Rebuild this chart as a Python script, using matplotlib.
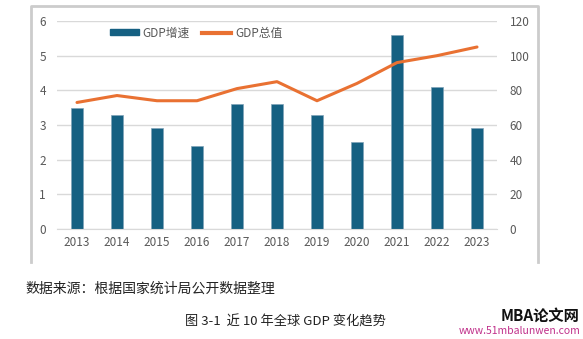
import numpy as np
import matplotlib.pyplot as plt
from matplotlib.lines import Line2D

plt.rcParams['font.family'] = ['Noto Sans CJK SC', 'DejaVu Sans']

years = ["2013", "2014", "2015", "2016", "2017", "2018", "2019", "2020", "2021", "2022", "2023"]
gdp_growth = [3.5, 3.3, 2.9, 2.4, 3.6, 3.6, 3.3, 2.5, 5.6, 4.1, 2.9]
gdp_total = [73, 77, 74, 74, 81, 85, 74, 84, 96, 100, 105]

BAR_C = "#156082"
LINE_C = "#E97132"
TXT_C = "#595959"
GRID_C = "#d9d9d9"
FRAME_C = "#cccccc"

W, H = 583, 339
fig = plt.figure(figsize=(W / 100, H / 100), dpi=100)

# plot area in pixels: left 57, right 497, top 21, bottom 229
ax = fig.add_axes([57 / W, 1 - 229 / H, 440 / W, 208 / H])
ax2 = ax.twinx()

x = np.arange(len(years))
ax.bar(x, gdp_growth, width=0.3, color=BAR_C, edgecolor="#7fa3b8", linewidth=0.5, zorder=2)
ax2.plot(x, gdp_total, color=LINE_C, lw=2.2, solid_capstyle="round", zorder=3)

ax.set_xlim(-0.5, len(years) - 0.5)
ax.set_ylim(0, 6)
ax2.set_ylim(0, 120)
ax.set_yticks(range(0, 7))
ax2.set_yticks(range(0, 121, 20))
ax.set_xticks(x)
ax.set_xticklabels(years)

ax.yaxis.grid(True, color=GRID_C, lw=1, zorder=0)
ax.set_axisbelow(True)
ax.set_zorder(ax2.get_zorder() - 1)
ax2.patch.set_visible(False)

for a in (ax, ax2):
    for s in a.spines.values():
        s.set_visible(False)
    a.tick_params(length=0, colors=TXT_C, labelsize=8.5)
ax.spines["bottom"].set_visible(True)
ax.spines["bottom"].set_color(GRID_C)
ax.tick_params(axis="y", pad=8)
ax.tick_params(axis="x", pad=5)
ax2.tick_params(axis="y", pad=9)

handles = [plt.Rectangle((0, 0), 1, 1, color=BAR_C),
           Line2D([0], [0], color=LINE_C, lw=3)]
fig.legend(handles, ["GDP增速", "GDP总值"], loc="center", bbox_to_anchor=(196 / W, 1 - 33 / H),
           ncol=2, frameon=False, fontsize=8.5, labelcolor=TXT_C, handlelength=2.5,
           handleheight=0.35, handletextpad=0.3, columnspacing=1.0)

# outer chart frame, open at the bottom
fx = [31 / W, 31 / W, 538 / W, 538 / W]
fy = [1 - 262 / H, 1 - 6 / H, 1 - 6 / H, 1 - 262 / H]
fig.lines.append(Line2D(fx, fy, color=FRAME_C, lw=2, transform=fig.transFigure, figure=fig, zorder=5))

fig.text(25 / W, 1 - 289 / H, "数据来源：根据国家统计局公开数据整理", fontsize=10,
         color="#222222", va="center", ha="left")
fig.text(285 / W, 1 - 322 / H, "图 3-1  近 10 年全球 GDP 变化趋势", fontsize=9.5,
         color="#222222", va="center", ha="center")
fig.text(580 / W, 1 - 316 / H, "MBA论文网", fontsize=11, fontweight="bold", style="italic",
         color="#111111", va="center", ha="right")
fig.text(580 / W, 1 - 331 / H, "www.51mbalunwen.com", fontsize=7.5, style="italic",
         color="#c0308a", va="center", ha="right")

fig.savefig("out.png", dpi=100)
